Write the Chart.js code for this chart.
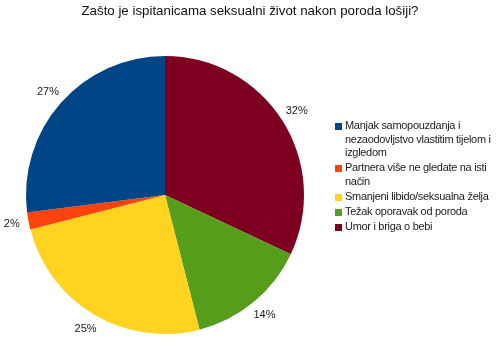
<!DOCTYPE html>
<html>
<head>
<meta charset="utf-8">
<script src="https://cdn.jsdelivr.net/npm/chart.js@4"></script>
<style>
  body { margin: 0; background: #fff; font-family: "Liberation Sans", Arial, sans-serif; }
  #wrap { position: relative; width: 500px; height: 361px; }
  #title { position: absolute; left: 0; top: 3px; width: 500px; text-align: center; font-size: 13.3px; color: #111; }
  #legend { position: absolute; left: 335px; top: 119px; width: 163px; font-size: 11px; letter-spacing: -0.3px; color: #222; line-height: 13.5px; }
  .item { position: relative; padding-left: 10px; margin-bottom: 1.5px; }
  .box { position: absolute; left: 0; top: 4px; width: 7px; height: 7px; }
</style>
</head>
<body>
<div id="wrap">
  <div id="title">Zašto je ispitanicama seksualni život nakon poroda lošiji?</div>
  <canvas id="pie" width="500" height="361"></canvas>
  <div id="legend"></div>
</div>
<script>
// legend order (LibreOffice draws the slices counter-clockwise in this order)
const categories = [
    'Manjak samopouzdanja i nezaodovljstvo vlastitim tijelom i izgledom',
    'Partnera više ne gledate na isti način',
    'Smanjeni libido/seksualna želja',
    'Težak oporavak od poroda',
    'Umor i briga o bebi'
];
const percentages = [27, 2, 25, 14, 32];
const sliceColors = ['#004586', '#ff420e', '#ffd320', '#579d1c', '#7e0021'];

// --- HTML legend ---
const legendEl = document.getElementById('legend');
categories.forEach((c, i) => {
    const div = document.createElement('div');
    div.className = 'item';
    div.innerHTML = `<span class="box" style="background:${sliceColors[i]}"></span>${c}`;
    legendEl.appendChild(div);
});

// Chart.js goes clockwise, so feed it reversed
const revLabels = [...categories].reverse();
const revData = [...percentages].reverse();
const revColors = [...sliceColors].reverse();

// draws the "32%" style labels just outside each slice
const outsideLabels = {
    id: 'outsideLabels',
    afterDatasetsDraw(chart) {
        const ctx = chart.ctx;
        const meta = chart.getDatasetMeta(0);
        ctx.save();
        ctx.font = '11px "Liberation Sans", Arial, sans-serif';
        ctx.fillStyle = '#222';
        ctx.textAlign = 'center';
        ctx.textBaseline = 'middle';
        meta.data.forEach((arc, i) => {
            const p = arc.getProps(['x', 'y', 'startAngle', 'endAngle', 'outerRadius'], true);
            const mid = (p.startAngle + p.endAngle) / 2;
            const r = p.outerRadius + 17;
            ctx.fillText(revData[i] + '%', p.x + Math.cos(mid) * r, p.y + Math.sin(mid) * r);
        });
        ctx.restore();
    }
};

new Chart(document.getElementById('pie'), {
    type: 'pie',
    data: {
        labels: revLabels,
        datasets: [{
            data: revData,
            backgroundColor: revColors,
            borderWidth: 0
        }]
    },
    options: {
        responsive: false,
        animation: false,
        layout: { padding: { left: 26, right: 196, top: 56, bottom: 27 } },
        plugins: {
            legend: { display: false },
            tooltip: { enabled: false }
        }
    },
    plugins: [outsideLabels]
});
</script>
</body>
</html>
